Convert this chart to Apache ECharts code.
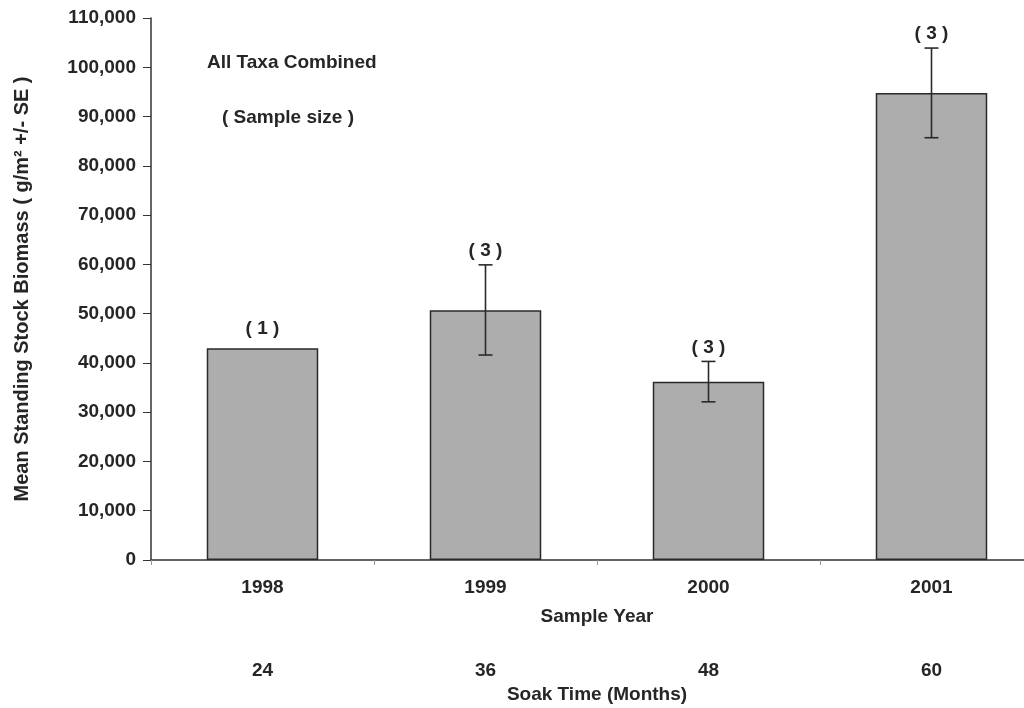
<!DOCTYPE html>
<html>
<head>
<meta charset="utf-8">
<script src="https://cdn.jsdelivr.net/npm/echarts@6/dist/echarts.min.js"></script>
<style>
  html, body { margin: 0; padding: 0; background: #fff; }
  #chart { width: 1024px; height: 708px; }
</style>
</head>
<body>
<div id="chart"></div>
<script>
// data
var years = ['1998', '1999', '2000', '2001'];
var soakMonths = ['24', '36', '48', '60'];
var biomass = [43000, 50700, 36200, 94800];
var seLow = [null, 41600, 32100, 85700];
var seHigh = [null, 59900, 40300, 103900];
var sampleSize = [1, 3, 3, 3];

var chart = echarts.init(document.getElementById('chart'));
var FONT = 'Liberation Sans, Arial, sans-serif';
var TXT = '#262626';

var errData = [];
for (var i = 0; i < years.length; i++) {
    errData.push([i, seLow[i], seHigh[i], biomass[i], sampleSize[i]]);
}

// error bars + sample size labels
function renderError(params, api) {
    var idx = api.value(0);
    var lo = api.value(1), hi = api.value(2), val = api.value(3);
    var n = api.value(4);
    var children = [];
    var top, gap;
    var half = 7;
    if (!isNaN(lo) && !isNaN(hi) && lo !== null) {
        var pHi = api.coord([idx, hi]);
        var pLo = api.coord([idx, lo]);
        var st = { stroke: '#2a2a2a', lineWidth: 1.6 };
        children.push({ type: 'line', shape: { x1: pHi[0], y1: pHi[1], x2: pLo[0], y2: pLo[1] }, style: st });
        children.push({ type: 'line', shape: { x1: pHi[0] - half, y1: pHi[1], x2: pHi[0] + half, y2: pHi[1] }, style: st });
        children.push({ type: 'line', shape: { x1: pLo[0] - half, y1: pLo[1], x2: pLo[0] + half, y2: pLo[1] }, style: st });
        top = pHi;
        gap = 14;
    } else {
        top = api.coord([idx, val]);
        gap = 19;
    }
    children.push({
        type: 'text',
        style: {
            x: top[0], y: top[1] - gap,
            text: '( ' + n + ' )',
            align: 'center', verticalAlign: 'middle',
            font: 'bold 19px ' + FONT,
            fill: TXT
        }
    });
    return { type: 'group', children: children };
}

var option = {
    backgroundColor: '#fff',
    animation: false,
    grid: { left: 151, top: 18, width: 892, height: 542, containLabel: false, outerBoundsMode: 'none' },
    graphic: [
        { type: 'text', left: 207, top: 53, style: { text: 'All Taxa Combined', font: 'bold 19px ' + FONT, fill: TXT } },
        { type: 'text', left: 222, top: 108, style: { text: '( Sample size )', font: 'bold 19px ' + FONT, fill: TXT } }
    ],
    xAxis: [
        {
            type: 'category',
            data: years,
            position: 'bottom',
            name: 'Sample Year',
            nameLocation: 'middle',
            nameGap: 47,
            nameTextStyle: { fontFamily: FONT, fontSize: 19, fontWeight: 'bold', color: TXT },
            axisLine: { lineStyle: { color: '#333', width: 1.5 } },
            axisTick: { show: true, length: 5, lineStyle: { color: '#999' } },
            axisLabel: { fontFamily: FONT, fontSize: 19, fontWeight: 'bold', color: TXT, margin: 18 },
            splitLine: { show: false }
        },
        {
            type: 'category',
            data: soakMonths,
            position: 'bottom',
            offset: 78,
            name: 'Soak Time (Months)',
            nameLocation: 'middle',
            nameGap: 41,
            nameTextStyle: { fontFamily: FONT, fontSize: 19, fontWeight: 'bold', color: TXT },
            axisLine: { show: false },
            axisTick: { show: false },
            axisLabel: { fontFamily: FONT, fontSize: 19, fontWeight: 'bold', color: TXT, margin: 23 },
            splitLine: { show: false }
        }
    ],
    yAxis: {
        type: 'value',
        min: 0,
        max: 110000,
        interval: 10000,
        name: 'Mean Standing Stock Biomass ( g/m\u00B2 +/- SE )',
        nameLocation: 'middle',
        nameGap: 119,
        nameTextStyle: { fontFamily: FONT, fontSize: 20, fontWeight: 'bold', color: TXT },
        axisLine: { show: true, lineStyle: { color: '#333', width: 1.5 } },
        axisTick: { show: true, length: 8, lineStyle: { color: '#333' } },
        axisLabel: {
            fontFamily: FONT, fontSize: 19, fontWeight: 'bold', color: TXT, margin: 15,
            formatter: function (v) { return v.toLocaleString('en-US'); }
        },
        splitLine: { show: false }
    },
    series: [
        {
            name: 'Biomass',
            type: 'bar',
            xAxisIndex: 0,
            data: biomass,
            barWidth: '50%',
            itemStyle: { color: '#adadad', borderColor: '#2a2a2a', borderWidth: 1.5 }
        },
        {
            name: 'SE',
            type: 'custom',
            xAxisIndex: 0,
            data: errData,
            renderItem: renderError,
            z: 5
        }
    ]
};
chart.setOption(option);
</script>
</body>
</html>
